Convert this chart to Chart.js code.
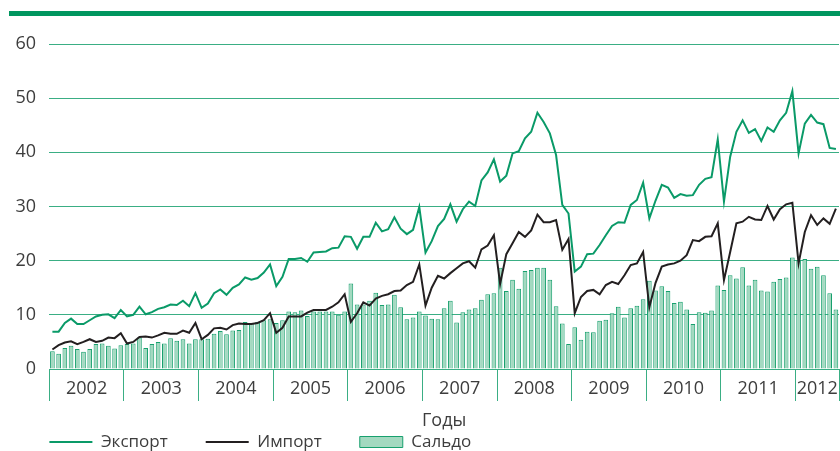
<!DOCTYPE html>
<html>
<head>
<meta charset="utf-8">
<script src="https://cdn.jsdelivr.net/npm/chart.js@4.4.1/dist/chart.umd.min.js"></script>
<style>
  body { margin: 0; background: #fff; }
  #wrap { width: 840px; height: 451px; position: relative; }
</style>
</head>
<body>
<div id="wrap"><canvas id="chart"></canvas></div>
<script>
// годы и число месяцев в каждом (2012 - до июля)
const years = ['2002', '2003', '2004', '2005', '2006', '2007', '2008', '2009', '2010', '2011', '2012'];
const monthsInYear = [12, 12, 12, 12, 12, 12, 12, 12, 12, 12, 7];
const yTicks = [0, 10, 20, 30, 40, 50, 60];

const exportValues = [
    6.9, 6.9, 8.5, 9.3, 8.3, 8.3, 9.0, 9.7, 10.0, 10.1, 9.4, 10.9,
    9.7, 10.0, 11.5, 10.1, 10.5, 11.1, 11.4, 11.9, 11.8, 12.6, 11.6, 14.0,
    11.3, 12.1, 14.0, 14.7, 13.7, 15.0, 15.6, 16.9, 16.5, 16.8, 17.8, 19.3,
    15.3, 17.0, 20.3, 20.3, 20.5, 19.8, 21.5, 21.6, 21.7, 22.3, 22.4, 24.5,
    24.4, 22.2, 24.4, 24.4, 27.0, 25.4, 25.8, 28.0, 25.9, 24.9, 25.7, 29.9,
    21.5, 23.6, 26.4, 27.7, 30.4, 27.2, 29.5, 30.9, 30.1, 34.8, 36.3, 38.7,
    34.6, 35.7, 39.8, 40.2, 42.6, 43.8, 47.3, 45.6, 43.5, 39.5, 30.3, 28.7,
    18.0, 18.9, 21.2, 21.3, 22.9, 24.7, 26.4, 27.1, 27.0, 30.3, 31.2, 34.4,
    27.8, 31.1, 34.0, 33.5, 31.6, 32.3, 32.0, 32.1, 34.0, 35.1, 35.4, 42.4,
    30.9, 39.2, 43.8, 45.9, 43.6, 44.3, 42.1, 44.6, 43.8, 45.9, 47.3, 51.3,
    39.8, 45.3, 46.9, 45.5, 45.2, 40.8, 40.6
];

const importValues = [
    3.6, 4.4, 4.9, 5.1, 4.6, 5.0, 5.5, 5.0, 5.2, 5.8, 5.7, 6.6,
    4.7, 5.0, 5.9, 6.0, 5.8, 6.2, 6.7, 6.5, 6.5, 7.1, 6.7, 8.5,
    5.5, 6.3, 7.5, 7.6, 7.3, 8.1, 8.4, 8.3, 8.3, 8.5, 9.0, 10.3,
    6.7, 7.6, 9.7, 9.7, 9.7, 10.4, 10.9, 10.9, 10.9, 11.5, 12.3, 13.8,
    8.7, 10.3, 12.3, 11.7, 13.0, 13.5, 13.8, 14.4, 14.5, 15.5, 16.1, 19.3,
    11.7, 15.0, 17.2, 16.7, 17.7, 18.6, 19.5, 19.9, 18.7, 22.1, 22.8, 24.7,
    15.7, 21.2, 23.2, 25.3, 24.4, 25.6, 28.5, 27.1, 27.1, 27.5, 22.0, 24.0,
    10.3, 13.3, 14.4, 14.6, 13.8, 15.5, 16.1, 15.7, 17.3, 19.2, 19.5, 21.6,
    11.4, 15.9, 18.9, 19.3, 19.5, 20.0, 21.0, 23.8, 23.6, 24.4, 24.5, 26.9,
    16.4, 21.6, 26.9, 27.2, 28.1, 27.6, 27.5, 30.1, 27.6, 29.5, 30.4, 30.7,
    19.5, 25.3, 28.4, 26.6, 27.8, 26.8, 29.6
];

const saldoValues = [
    3.3, 2.8, 3.9, 4.3, 3.7, 3.2, 3.7, 4.6, 4.7, 4.3, 3.8, 4.4,
    4.6, 4.7, 5.8, 3.9, 4.6, 5.0, 4.7, 5.7, 5.2, 5.5, 4.7, 5.5,
    5.5, 5.6, 6.5, 7.0, 6.4, 7.1, 7.2, 8.7, 8.5, 8.7, 9.0, 9.2,
    8.5, 9.0, 10.6, 10.5, 10.8, 9.8, 10.6, 10.6, 10.6, 10.6, 10.0, 10.6,
    15.8, 11.9, 11.9, 12.6, 14.1, 11.8, 11.9, 13.7, 11.4, 9.2, 9.5, 10.6,
    9.9, 9.3, 9.2, 11.2, 12.6, 8.6, 10.5, 11.0, 11.2, 12.8, 13.8, 14.0,
    18.7, 14.4, 16.5, 14.8, 18.1, 18.3, 18.7, 18.7, 16.5, 11.6, 8.4, 4.6,
    7.7, 5.4, 6.9, 6.8, 8.9, 9.1, 10.3, 11.5, 9.5, 11.2, 11.7, 12.9,
    16.3, 14.5, 15.3, 14.4, 12.2, 12.4, 11.0, 8.3, 10.5, 10.4, 10.8, 15.4,
    14.6, 17.3, 16.7, 18.8, 15.4, 16.5, 14.5, 14.3, 16.1, 16.6, 16.9, 20.6,
    20.1, 20.3, 18.5, 18.9, 17.3, 14.0, 11.0
];

// подписи месяцев для категорийной оси
const monthLabels = [];
years.forEach((y, i) => {
    for (let m = 1; m <= monthsInYear[i]; m++) {
        monthLabels.push(y + '-' + String(m).padStart(2, '0'));
    }
});

// границы и середины лет для нижней оси
const yearEdges = [-0.5];
monthsInYear.forEach((n) => yearEdges.push(yearEdges[yearEdges.length - 1] + n));
const yearMids = years.map((y, i) => (yearEdges[i] + yearEdges[i + 1]) / 2);
const yearTickValues = yearEdges.concat(yearMids).sort((a, b) => a - b);

const green = '#00965f';
const gridGreen = '#3aae84';
const textColor = '#3d3d3d';
const fontFamily = '"Open Sans", "Noto Sans", sans-serif';

const topBar = {
    id: 'topBar',
    beforeDraw(chart) {
        const ctx = chart.ctx;
        ctx.save();
        ctx.fillStyle = green;
        ctx.fillRect(9, 11, 831, 5);
        ctx.restore();
    }
};

new Chart(document.getElementById('chart'), {
    data: {
        labels: monthLabels,
        datasets: [
            {
                type: 'line',
                label: 'Экспорт',
                data: exportValues,
                borderColor: '#0a9a68',
                backgroundColor: '#0a9a68',
                borderWidth: 2,
                pointRadius: 0,
                tension: 0,
                order: 0,
                pointStyle: 'line'
            },
            {
                type: 'line',
                label: 'Импорт',
                data: importValues,
                borderColor: '#231f20',
                backgroundColor: '#231f20',
                borderWidth: 2,
                pointRadius: 0,
                tension: 0,
                order: 1,
                pointStyle: 'line'
            },
            {
                type: 'bar',
                label: 'Сальдо',
                data: saldoValues,
                backgroundColor: '#a3d9c0',
                borderColor: '#17a06e',
                borderWidth: 1,
                barPercentage: 0.75,
                categoryPercentage: 1,
                order: 2,
                pointStyle: 'rect'
            }
        ]
    },
    options: {
        responsive: true,
        maintainAspectRatio: false,
        animation: false,
        layout: {
            padding: { left: 11.4, right: 1, top: 44, bottom: -9.5 }
        },
        plugins: {
            tooltip: { enabled: false },
            legend: {
                position: 'bottom',
                align: 'start',
                labels: {
                    usePointStyle: true,
                    pointStyleWidth: 43,
                    boxHeight: 11,
                    padding: 38,
                    color: textColor,
                    font: { family: fontFamily, size: 17 }
                }
            }
        },
        scales: {
            x: {
                type: 'category',
                display: false,
                offset: true
            },
            xYears: {
                type: 'linear',
                position: 'bottom',
                min: -0.5,
                max: yearEdges[yearEdges.length - 1],
                afterBuildTicks: (axis) => {
                    axis.ticks = yearTickValues.map((v) => ({ value: v }));
                },
                afterFit: (axis) => {
                    axis.height = 26.5;
                },
                ticks: {
                    autoSkip: false,
                    maxRotation: 0,
                    padding: -22.8,
                    color: textColor,
                    font: { family: fontFamily, size: 18 },
                    callback: (value) => {
                        const i = yearMids.indexOf(value);
                        return i >= 0 ? years[i] : '';
                    }
                },
                grid: {
                    drawOnChartArea: false,
                    tickLength: 32,
                    color: (ctx) => (ctx.tick && yearEdges.includes(ctx.tick.value) ? gridGreen : 'rgba(0,0,0,0)')
                },
                border: { display: false },
                title: {
                    display: true,
                    text: 'Годы',
                    color: textColor,
                    font: { family: fontFamily, size: 18 },
                    padding: { top: 0, bottom: -36.5 }
                }
            },
            y: {
                min: 0,
                max: 60,
                afterBuildTicks: (axis) => {
                    axis.ticks = yTicks.map((v) => ({ value: v }));
                },
                afterFit: (axis) => {
                    axis.width = 37.9;
                },
                ticks: {
                    padding: 13.3,
                    color: textColor,
                    font: { family: fontFamily, size: 18 }
                },
                grid: {
                    color: gridGreen,
                    drawTicks: false
                },
                border: { display: false }
            }
        }
    },
    plugins: [topBar]
});
</script>
</body>
</html>
